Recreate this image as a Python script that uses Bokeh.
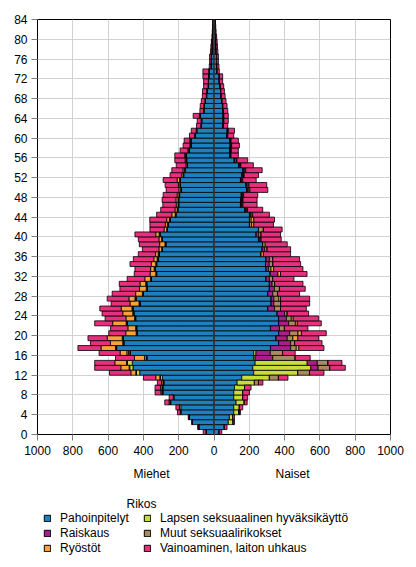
from bokeh.plotting import figure
from bokeh.layouts import column
from bokeh.models import ColumnDataSource, Range1d, FixedTicker, Span, Label, Legend, LegendItem
from bokeh.transform import dodge
from bokeh.embed import file_html
from bokeh.resources import INLINE

FONT = "Liberation Sans"

ages = list(range(84))
y_ticks = list(range(0, 85, 4))
x_ticks = [-1000, -800, -600, -400, -200, 0, 200, 400, 600, 800, 1000]
x_tick_labels = ["1000", "800", "600", "400", "200", "0", "200", "400", "600", "800", "1000"]

categories = ["Pahoinpitelyt", "Lapsen seksuaalinen hyväksikäyttö", "Raiskaus",
              "Muut seksuaalirikokset", "Ryöstöt", "Vainoaminen, laiton uhkaus"]
colors = ["#1F80BE", "#C8DC3C", "#AA1E8C", "#A88A5E", "#F9A23A", "#E6307D"]

# ---- Miehet (men) ----
m_pahoinpitelyt = [46, 87, 122, 141, 185, 188, 245, 226, 287, 287, 283, 292, 421, 459, 463, 378, 473, 552, 511, 514,
                   435, 438, 492, 444, 454, 459, 419, 442, 400, 378, 381, 355, 325, 334, 325, 317, 311, 292, 273, 292,
                   306, 264, 260, 249, 216, 205, 200, 200, 195, 185, 190, 192, 172, 165, 150, 155, 158, 140, 130, 131,
                   105, 98, 72, 70, 80, 58, 55, 50, 42, 40, 32, 32, 30, 30, 18, 17, 16, 13, 12, 10, 8, 7, 5, 4]
m_lapsen = [0, 0, 0, 0, 6, 8, 4, 5, 8, 8, 6, 11, 19, 19, 28, 4, 2, 0, 0, 0,
            0, 0, 0, 0, 0, 0, 0, 0, 0, 0, 0, 0, 0, 0, 0, 0, 0, 0, 0, 0,
            0, 0, 0, 0, 0, 0, 0, 0, 0, 0, 0, 0, 0, 0, 0, 0, 0, 0, 0, 0,
            0, 0, 0, 0, 0, 0, 0, 0, 0, 0, 0, 0, 0, 0, 0, 0, 0, 0, 0, 0, 0, 0, 0, 0]
m_raiskaus = [0, 0, 0, 0, 0, 0, 0, 0, 0, 0, 0, 0, 0, 0, 2, 2, 9, 3, 3, 3,
              3, 3, 3, 3, 3, 3, 3, 3, 3, 3, 3, 2, 2, 2, 2, 2, 2, 2, 2, 2,
              2, 2, 2, 2, 2, 2, 2, 2, 2, 2, 2, 1, 1, 1, 1, 1, 1, 1, 1, 1,
              1, 0, 0, 0, 0, 0, 0, 0, 0, 0, 0, 0, 0, 0, 0, 0, 0, 0, 0, 0, 0, 0, 0, 0]
m_muut = [0, 0, 0, 0, 0, 0, 0, 0, 0, 0, 0, 4, 3, 3, 3, 10, 10, 3, 3, 3,
          3, 3, 3, 3, 3, 3, 3, 3, 3, 3, 3, 3, 3, 3, 3, 3, 3, 3, 3, 3,
          3, 2, 2, 2, 2, 2, 2, 2, 2, 2, 2, 2, 2, 2, 2, 2, 2, 2, 2, 2,
          2, 1, 1, 1, 1, 1, 1, 1, 1, 1, 1, 0, 0, 0, 0, 0, 0, 0, 0, 0, 0, 0, 0, 0]
m_ryostot = [0, 0, 0, 0, 0, 0, 6, 0, 6, 8, 8, 23, 28, 47, 66, 57, 38, 82, 70, 85,
             59, 44, 76, 49, 57, 61, 51, 34, 38, 38, 32, 32, 32, 20, 25, 19, 15, 15, 30, 15,
             19, 15, 12, 15, 19, 12, 10, 12, 10, 10, 8, 14, 8, 8, 6, 6, 5, 5, 4, 3,
             3, 2, 2, 2, 2, 1, 2, 1, 1, 1, 1, 0, 1, 0, 0, 0, 0, 0, 0, 0, 0, 0, 0, 0]
m_vainoaminen = [15, 6, 5, 5, 16, 20, 24, 23, 33, 31, 24, 70, 121, 148, 114, 107, 119, 131, 113, 109,
                 96, 98, 102, 118, 117, 121, 107, 123, 133, 111, 118, 100, 90, 89, 121, 116, 98, 94, 115, 117,
                 118, 80, 87, 96, 86, 81, 76, 78, 79, 72, 75, 79, 66, 63, 55, 58, 56, 44, 38, 32,
                 28, 28, 24, 22, 35, 20, 20, 20, 22, 23, 25, 27, 32, 33, 9, 8, 9, 7, 6, 5, 4, 3, 3, 2]

# ---- Naiset (women) ----
f_pahoinpitelyt = [30, 59, 81, 87, 112, 112, 125, 112, 112, 116, 131, 157, 225, 220, 233, 225, 225, 320, 366, 352,
                   366, 320, 366, 366, 358, 305, 324, 324, 305, 314, 314, 295, 318, 295, 292, 295, 267, 273, 277, 252,
                   239, 252, 201, 201, 201, 175, 150, 152, 155, 185, 180, 150, 158, 165, 140, 115, 88, 90, 92, 90,
                   72, 75, 50, 52, 52, 50, 48, 44, 40, 38, 35, 30, 30, 18, 17, 15, 15, 13, 12, 11, 9, 7, 6, 5]
f_lapsen = [0, 0, 28, 19, 27, 32, 47, 51, 51, 57, 98, 157, 250, 328, 295, 8, 13, 0, 0, 0,
            0, 0, 0, 0, 0, 0, 0, 0, 0, 0, 0, 0, 0, 0, 0, 0, 0, 0, 0, 0,
            0, 0, 0, 0, 0, 0, 0, 0, 0, 0, 0, 0, 0, 0, 0, 0, 0, 0, 0, 0,
            0, 0, 0, 0, 0, 0, 0, 0, 0, 0, 0, 0, 0, 0, 0, 0, 0, 0, 0, 0, 0, 0, 0, 0]
f_raiskaus = [0, 0, 0, 0, 0, 0, 0, 0, 0, 0, 0, 0, 0, 42, 57, 100, 81, 114, 68, 63,
              63, 51, 57, 44, 42, 38, 15, 15, 28, 28, 15, 19, 44, 14, 21, 19, 0, 14, 0, 8,
              14, 0, 0, 0, 5, 5, 5, 4, 4, 5, 5, 4, 4, 5, 4, 4, 3, 3, 3, 2,
              2, 2, 1, 1, 1, 1, 1, 1, 1, 0, 0, 0, 0, 0, 0, 0, 0, 0, 0, 0, 0, 0, 0, 0]
f_muut = [0, 0, 0, 0, 5, 0, 0, 0, 0, 0, 23, 51, 66, 66, 61, 127, 70, 32, 23, 32,
          47, 28, 38, 28, 15, 34, 38, 28, 28, 29, 15, 19, 0, 14, 21, 19, 0, 14, 0, 7,
          14, 28, 12, 10, 5, 5, 5, 5, 5, 8, 8, 5, 5, 6, 5, 8, 4, 3, 3, 3,
          3, 3, 2, 2, 2, 2, 2, 1, 1, 1, 1, 1, 1, 0, 0, 0, 0, 0, 0, 0, 0, 0, 0, 0]
f_ryostot = [0, 0, 0, 0, 0, 0, 0, 0, 0, 0, 0, 0, 0, 0, 0, 0, 0, 15, 0, 28,
             19, 0, 11, 11, 0, 0, 0, 10, 0, 0, 0, 0, 15, 15, 0, 0, 13, 0, 13, 0,
             0, 0, 13, 15, 8, 5, 4, 4, 4, 5, 5, 4, 4, 4, 3, 3, 2, 2, 2, 2,
             1, 1, 1, 1, 1, 1, 0, 0, 0, 0, 0, 0, 0, 0, 0, 0, 0, 0, 0, 0, 0, 0, 0, 0]
f_vainoaminen = [14, 15, 7, 10, 6, 19, 16, 28, 38, 37, 25, 54, 82, 88, 79, 85, 71, 142, 155, 118,
                 141, 133, 136, 144, 121, 146, 165, 165, 124, 146, 160, 120, 150, 166, 157, 152, 154, 133, 125, 114,
                 110, 106, 111, 117, 95, 86, 80, 79, 80, 102, 101, 76, 81, 93, 71, 61, 41, 40, 44, 41,
                 34, 35, 24, 25, 25, 24, 23, 22, 21, 20, 19, 18, 18, 12, 11, 10, 10, 9, 8, 7, 6, 5, 4, 3]

male = [m_pahoinpitelyt, m_lapsen, m_raiskaus, m_muut, m_ryostot, m_vainoaminen]
female = [f_pahoinpitelyt, f_lapsen, f_raiskaus, f_muut, f_ryostot, f_vainoaminen]

data = {"age": ages}
m_keys, f_keys = [], []
for i in range(len(categories)):
    data[f"m{i}"] = [-v for v in male[i]]
    data[f"f{i}"] = list(female[i])
    m_keys.append(f"m{i}")
    f_keys.append(f"f{i}")
src = ColumnDataSource(data)

W = 408
BL, BR = 37, 18
p = figure(width=W, height=465, output_backend="svg", toolbar_location=None,
           x_range=Range1d(-1000, 1000), y_range=Range1d(0, 84),
           min_border_left=BL, min_border_right=BR, min_border_top=19, min_border_bottom=31)
p.background_fill_color = "white"
p.border_fill_color = "white"
p.outline_line_color = "black"
p.outline_line_width = 1

ybar = dodge("age", 0.5)
m_r = p.hbar_stack(m_keys, y=ybar, height=1, color=colors, line_color="black", line_width=0.8, source=src)
f_r = p.hbar_stack(f_keys, y=ybar, height=1, color=colors, line_color="black", line_width=0.8, source=src)

p.add_layout(Span(location=0, dimension="height", line_color="#3a3a3a", line_width=1.5))

# axes
p.xaxis.ticker = FixedTicker(ticks=x_ticks)
p.xaxis.major_label_overrides = {t: s for t, s in zip(x_ticks, x_tick_labels)}
p.yaxis.ticker = FixedTicker(ticks=y_ticks)
for ax in (p.xaxis[0], p.yaxis[0]):
    ax.axis_line_color = "black"
    ax.axis_line_width = 1
    ax.major_tick_out = 6
    ax.major_tick_in = 0
    ax.major_tick_line_color = "#808080"
    ax.minor_tick_line_color = None
    ax.major_label_text_font = FONT
    ax.major_label_text_font_size = "12px"
    ax.major_label_text_color = "black"
p.xaxis.major_label_standoff = 5
p.yaxis.major_label_standoff = 4

p.xgrid.ticker = FixedTicker(ticks=x_ticks)
p.ygrid.ticker = FixedTicker(ticks=y_ticks)
p.grid.grid_line_color = "#d2d2d2"
p.grid.grid_line_width = 1

# ---- lower panel: side titles and legend (coordinates = page pixels) ----
H2 = 95
q = figure(width=W, height=H2, output_backend="svg", toolbar_location=None,
           x_range=Range1d(BL, W - BR), y_range=Range1d(H2, 0),
           x_axis_type=None, y_axis_type=None,
           min_border_left=BL, min_border_right=BR, min_border_top=0, min_border_bottom=0)
q.outline_line_color = None
q.grid.visible = False
q.background_fill_color = "white"
q.border_fill_color = "white"

for txt, xv in (("Miehet", 151), ("Naiset", 292)):
    q.add_layout(Label(x=xv, y=8, text=txt, text_align="center", text_baseline="middle",
                       text_font=FONT, text_font_size="12px", text_color="black"))
q.add_layout(Label(x=141, y=38, text="Rikos", text_align="center", text_baseline="middle",
                   text_font=FONT, text_font_size="12px", text_color="black"))

nan = float("nan")
empty = ColumnDataSource(dict(y=[nan], right=[nan]))
dummies = [q.hbar(y="y", right="right", height=1, fill_color=c, line_color="black", line_width=1,
                  source=empty) for c in colors]

col1 = [0, 2, 4]
col2 = [1, 3, 5]
for idxs, xloc in ((col1, 43 - BL), (col2, 143 - BL)):
    items = [LegendItem(label=categories[i], renderers=[dummies[i]]) for i in idxs]
    leg = Legend(items=items, location=(xloc, 5), orientation="vertical",
                 border_line_color=None, background_fill_alpha=0, padding=0, margin=0,
                 spacing=1, glyph_width=8, glyph_height=8, label_height=13, label_standoff=9,
                 label_text_font=FONT, label_text_font_size="12px", label_text_color="black")
    q.add_layout(leg, "center")

layout = column(p, q, spacing=0)
open("out.html", "w").write(file_html(layout, INLINE))
